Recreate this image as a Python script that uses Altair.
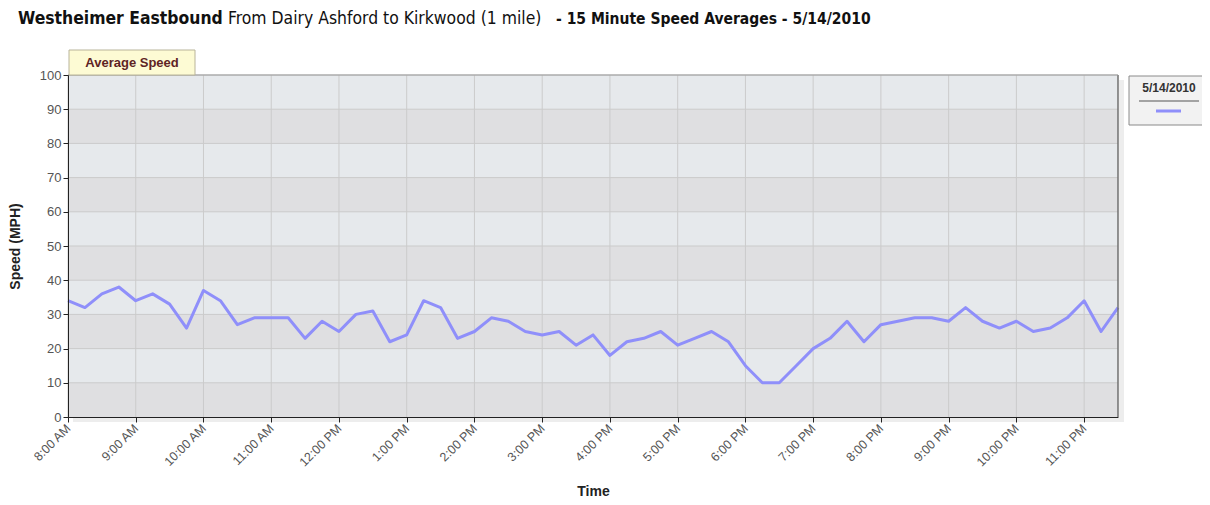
import altair as alt
import pandas as pd

# ---- data ----
start_time = "2010-05-14 08:00"
speeds = [34, 32, 36, 38,
          34, 36, 33, 26,
          37, 34, 27, 29,
          29, 29, 23, 28,
          25, 30, 31, 22,
          24, 34, 32, 23,
          25, 29, 28, 25,
          24, 25, 21, 24,
          18, 22, 23, 25,
          21, 23, 25, 22,
          15, 10, 10, 15,
          20, 23, 28, 22,
          27, 28, 29, 29,
          28, 32, 28, 26,
          28, 25, 26, 29,
          34, 25, 32]
hour_ticks = list(range(8, 24))
y_ticks = list(range(0, 101, 10))
band_lo = [0, 20, 40, 60, 80]
band_hi = [10, 30, 50, 70, 90]
series_name = "5/14/2010"

times = pd.date_range(start_time, periods=len(speeds), freq="15min")
df = pd.DataFrame({"time": times, "speed": speeds})
hours_df = pd.DataFrame({"time": [pd.Timestamp(2010, 5, 14, h) for h in hour_ticks]})
ygrid_df = pd.DataFrame({"v": y_ticks[1:]})
bands_df = pd.DataFrame({"lo": band_lo, "hi": band_hi})
one = pd.DataFrame({"a": [0]})

W, H = 1050, 342
FONT = "Liberation Sans"
NARROW = "DejaVu Sans Condensed"

xdom = [alt.DateTime(year=2010, month=5, date=14, hours=8),
        alt.DateTime(year=2010, month=5, date=14, hours=23, minutes=30)]
xscale = alt.Scale(domain=xdom, nice=False)
yscale = alt.Scale(domain=[0, 100], nice=False)

x_axis = alt.Axis(
    values=[alt.DateTime(year=2010, month=5, date=14, hours=h) for h in hour_ticks],
    format="%-I:%M %p", labelAngle=315, labelAlign="right", labelBaseline="middle",
    labelFontSize=12.5, labelColor="#555555", labelFont=FONT, labelPadding=4,
    tickColor="#222222", tickSize=5, domainColor="#222222", grid=False,
    title="Time", titleFont=FONT, titleFontSize=14, titleFontWeight="bold",
    titleColor="#222222", titleX=525, titleY=78, titleBaseline="alphabetic",
    labelOverlap=False, labelBound=False, labelFlush=False, zindex=1,
)
y_axis = alt.Axis(
    values=y_ticks, labelFontSize=13, labelColor="#555555", labelFont=FONT,
    tickColor="#222222", tickSize=5, domainColor="#222222", grid=False, labelPadding=2,
    labelOverlap=False, labelBound=False, labelFlush=False, zindex=1,
    title="Speed (MPH)", titleFont=FONT, titleFontSize=14, titleFontWeight="bold",
    titleColor="#222222", titleX=-53, titleY=171, titleBaseline="middle", titleAngle=270,
)

shadow_r = alt.Chart(one).mark_rect(color="#000000", opacity=0.07).encode(
    x=alt.value(W + 1), x2=alt.value(W + 6), y=alt.value(5), y2=alt.value(H + 5))
shadow_b = alt.Chart(one).mark_rect(color="#000000", opacity=0.07).encode(
    x=alt.value(5), x2=alt.value(W + 1), y=alt.value(H + 1), y2=alt.value(H + 5))

bands = alt.Chart(bands_df).mark_rect(color="#dfdfe1").encode(
    x=alt.value(0), x2=alt.value(W),
    y=alt.Y("lo:Q", scale=yscale, axis=y_axis), y2="hi:Q")

vgrid = alt.Chart(hours_df).mark_rule(color="#cbcbcb", strokeWidth=1).encode(
    x=alt.X("time:T", scale=xscale, axis=x_axis))
hgrid = alt.Chart(ygrid_df).mark_rule(color="#cbcbcb", strokeWidth=1).encode(
    y=alt.Y("v:Q", scale=yscale, axis=y_axis))

right_edge = alt.Chart(one).mark_rule(color="#6f6f6f", strokeWidth=1.5).encode(
    x=alt.value(W), y=alt.value(0), y2=alt.value(H))
top_edge = alt.Chart(one).mark_rule(color="#9a9a9a", strokeWidth=1).encode(
    x=alt.value(0), x2=alt.value(W), y=alt.value(0))

line = alt.Chart(df).mark_line(color="#8f8ffa", strokeWidth=3, strokeJoin="round").encode(
    x=alt.X("time:T", scale=xscale, axis=x_axis),
    y=alt.Y("speed:Q", scale=yscale, axis=y_axis))

# tab "Average Speed"
tab_box = alt.Chart(one).mark_rect(fill="#fdfbd4", stroke="#b9b49a", strokeWidth=1).encode(
    x=alt.value(1), x2=alt.value(127), y=alt.value(-25), y2=alt.value(0))
tab_text = alt.Chart(one).mark_text(font=FONT, fontSize=13, fontWeight="bold",
                                    color="#5e2424", align="center", baseline="middle").encode(
    x=alt.value(64), y=alt.value(-12), text=alt.value("Average Speed"))

# legend box
leg_box = alt.Chart(one).mark_rect(fill="#f2f2f2", stroke="#8a8a8a", strokeWidth=1).encode(
    x=alt.value(1061), x2=alt.value(1140), y=alt.value(1), y2=alt.value(50))
leg_text = alt.Chart(one).mark_text(font=FONT, fontSize=12, fontWeight="bold",
                                    color="#333333", align="center", baseline="middle").encode(
    x=alt.value(1101), y=alt.value(13), text=alt.value(series_name))
leg_sep = alt.Chart(one).mark_rule(color="#555555", strokeWidth=1).encode(
    x=alt.value(1071), x2=alt.value(1131), y=alt.value(26))
leg_line = alt.Chart(one).mark_rule(color="#8f8ffa", strokeWidth=3).encode(
    x=alt.value(1088), x2=alt.value(1113), y=alt.value(36))

# title pieces
t1 = alt.Chart(one).mark_text(font=NARROW, fontSize=17.4, fontWeight="bold", color="#111111",
                              align="left", baseline="alphabetic").encode(
    x=alt.value(-50), y=alt.value(-51), text=alt.value("Westheimer Eastbound"))
t2 = alt.Chart(one).mark_text(font=NARROW, fontSize=17.4, color="#111111",
                              align="left", baseline="alphabetic").encode(
    x=alt.value(160), y=alt.value(-51), text=alt.value("From Dairy Ashford to Kirkwood (1 mile)"))
t3 = alt.Chart(one).mark_text(font=NARROW, fontSize=15.5, fontWeight="bold", color="#111111",
                              align="left", baseline="alphabetic").encode(
    x=alt.value(488), y=alt.value(-51), text=alt.value("- 15 Minute Speed Averages - 5/14/2010"))

chart = alt.layer(
    shadow_r, shadow_b, bands, vgrid, hgrid, line, right_edge, top_edge,
    tab_box, tab_text, leg_box, leg_text, leg_sep, leg_line, t1, t2, t3,
).properties(
    width=W, height=H,
    autosize=alt.AutoSizeParams(type="none"),
    padding={"left": 60, "top": 67, "right": 84, "bottom": 80},
).configure_view(fill="#e6e9ec", stroke=None)

chart.save("out.html", embed_options={"renderer": "svg", "actions": False})
